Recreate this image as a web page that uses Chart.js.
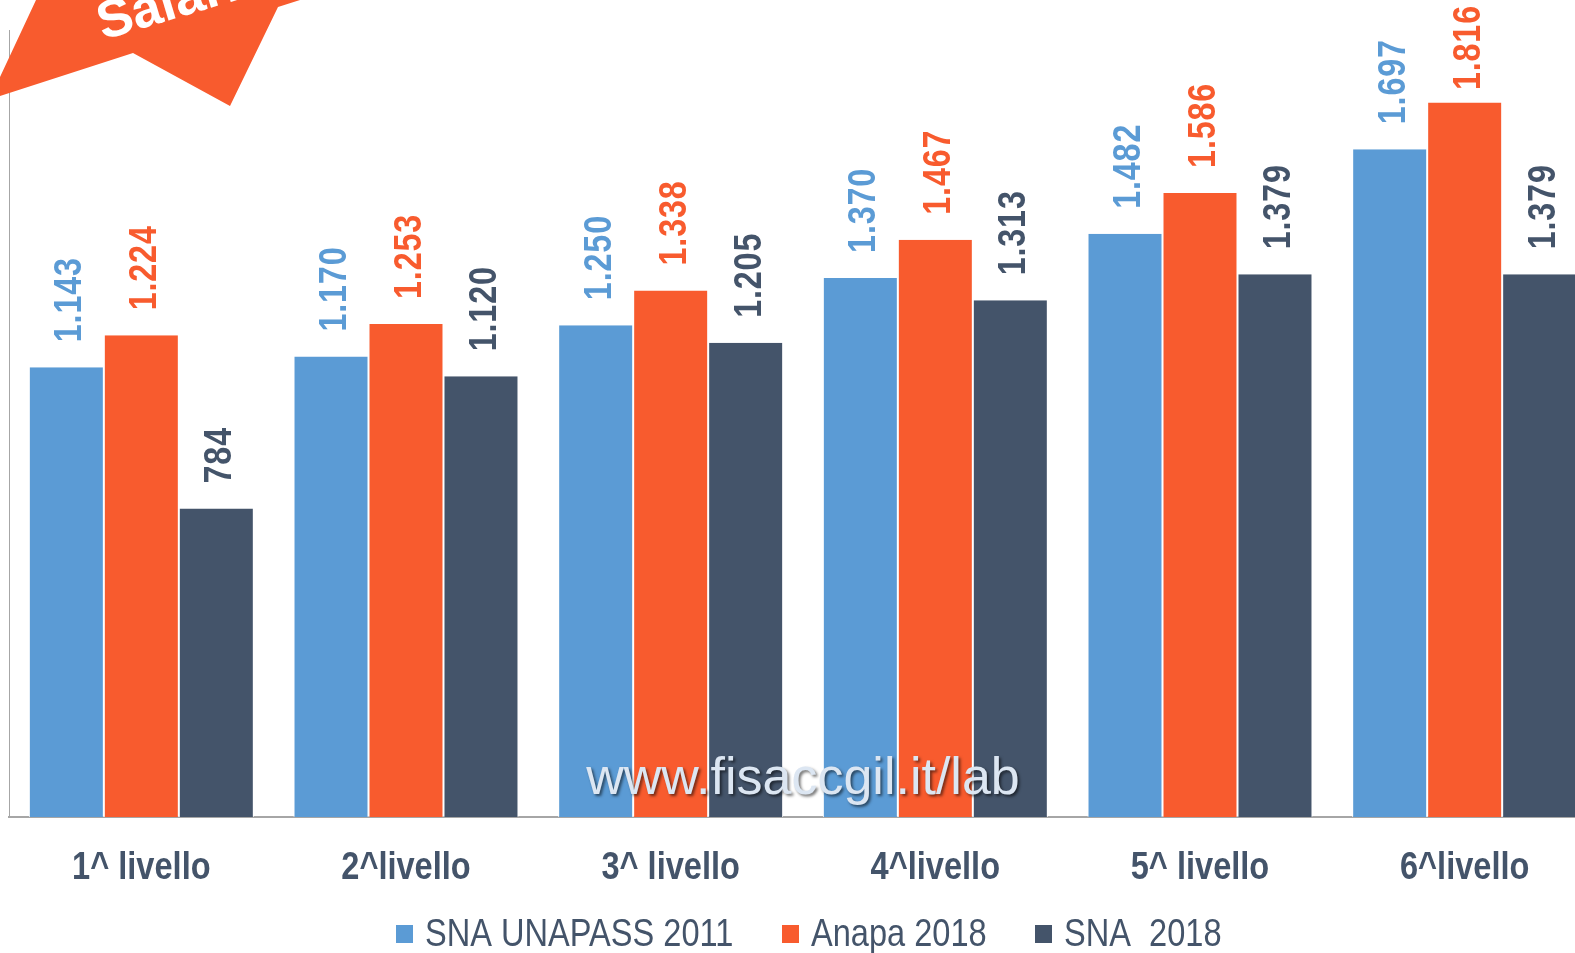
<!DOCTYPE html>
<html>
<head>
<meta charset="utf-8">
<script src="https://cdn.jsdelivr.net/npm/chart.js@4.4.1/dist/chart.umd.min.js"></script>
<style>
  html, body { margin: 0; padding: 0; background: #fff; overflow: hidden; }
  #wrap { width: 1597px; height: 953px; }
</style>
</head>
<body>
<div id="wrap"><canvas id="chart" width="1597" height="953"></canvas></div>
<script>
// livelli e retribuzioni
const categories = ['1^ livello', '2^livello', '3^ livello', '4^livello', '5^ livello', '6^livello'];
const seriesNames = ['SNA UNAPASS 2011', 'Anapa 2018', 'SNA  2018'];
const unapass2011 = [1143, 1170, 1250, 1370, 1482, 1697];
const anapa2018 = [1224, 1253, 1338, 1467, 1586, 1816];
const sna2018 = [784, 1120, 1205, 1313, 1379, 1379];
const seriesColors = ['#5B9BD5', '#F85B2E', '#44546A'];

const FONT = '"Liberation Sans", Arial, sans-serif';
const NARROW = 0.835;   // no Arial Narrow here, so squeeze Arial instead
const textColor = '#44546A';
const axisGray = '#A6A6A6';

// 1143 -> "1.143"
function fmt(v) {
    return String(v).replace(/\B(?=(\d{3})+(?!\d))/g, '.');
}

// narrow text: draw squeezed along the writing direction
function narrowText(ctx, text, x, y, align) {
    const w = ctx.measureText(text).width * NARROW;
    let x0 = x;
    if (align === 'center') x0 = x - w / 2;
    ctx.save();
    ctx.translate(x0, y);
    ctx.scale(NARROW, 1);
    ctx.textAlign = 'left';
    ctx.fillText(text, 0, 0);
    ctx.restore();
    return w;
}

// etichette verticali sopra le barre
const valueLabels = {
    id: 'valueLabels',
    afterDatasetsDraw(chart) {
        const ctx = chart.ctx;
        const sx = 0.85;
        ctx.save();
        ctx.font = 'bold 38px ' + FONT;
        ctx.letterSpacing = '1px';
        ctx.textBaseline = 'alphabetic';
        chart.data.datasets.forEach((ds, i) => {
            const meta = chart.getDatasetMeta(i);
            meta.data.forEach((bar, j) => {
                const txt = fmt(ds.data[j]);
                const len = ctx.measureText(txt).width * sx;
                // keep the label inside the picture, as the original does
                const start = Math.max(bar.y - 25, 5 + len);
                ctx.save();
                ctx.translate(bar.x + 15, start);
                ctx.rotate(-Math.PI / 2);
                ctx.scale(sx, 1);
                ctx.fillStyle = ds.backgroundColor;
                ctx.fillText(txt, 0, 0);
                ctx.restore();
            });
        });
        ctx.restore();
    }
};

// etichette di categoria sotto l'asse x, dalle posizioni della scala
const categoryLabels = {
    id: 'categoryLabels',
    afterDraw(chart) {
        const ctx = chart.ctx;
        const xs = chart.scales.x;
        ctx.save();
        ctx.font = 'bold 39px ' + FONT;
        ctx.fillStyle = textColor;
        ctx.textBaseline = 'alphabetic';
        xs.ticks.forEach((t, i) => {
            narrowText(ctx, xs.getLabelForValue(t.value), xs.getPixelForTick(i), 879, 'center');
        });
        ctx.restore();
    }
};

// legenda in basso
const bottomLegend = {
    id: 'bottomLegend',
    afterDraw(chart) {
        const ctx = chart.ctx;
        const boxX = [396, 782, 1035];
        ctx.save();
        ctx.font = '39px ' + FONT;
        ctx.textBaseline = 'alphabetic';
        chart.data.datasets.forEach((ds, i) => {
            ctx.fillStyle = ds.backgroundColor;
            ctx.fillRect(boxX[i], 925, 17, 18);
            ctx.fillStyle = textColor;
            narrowText(ctx, ds.label, boxX[i] + 29, 946, 'left');
        });
        ctx.restore();
    }
};

// scritta in trasparenza + nastro arancione in alto a sinistra
const decorations = {
    id: 'decorations',
    afterDraw(chart) {
        const ctx = chart.ctx;
        ctx.save();
        ctx.font = '52px ' + FONT;
        ctx.textAlign = 'center';
        ctx.textBaseline = 'alphabetic';
        ctx.shadowColor = 'rgba(0,0,0,0.55)';
        ctx.shadowOffsetX = 2;
        ctx.shadowOffsetY = 2;
        ctx.shadowBlur = 3;
        ctx.fillStyle = '#DCE6F2';
        ctx.fillText('www.fisaccgil.it/lab', 803, 794);
        ctx.restore();

        ctx.save();
        ctx.fillStyle = '#F85B2E';
        ctx.beginPath();
        ctx.moveTo(36, 0);
        ctx.lineTo(0, 77);
        ctx.lineTo(0, 96);
        ctx.lineTo(133, 53);
        ctx.lineTo(230, 106);
        ctx.lineTo(278, 7);
        ctx.lineTo(300, 0);
        ctx.closePath();
        ctx.fill();
        ctx.translate(103, 40);
        ctx.rotate(-0.29);
        ctx.fillStyle = '#fff';
        ctx.font = 'bold 53px ' + FONT;
        ctx.fillText('Salari', 0, 0);
        ctx.restore();
    }
};

const datasets = [unapass2011, anapa2018, sna2018].map((vals, i) => ({
    label: seriesNames[i],
    data: vals,
    backgroundColor: seriesColors[i],
    borderColor: '#FFFFFF',
    borderWidth: { left: 1, right: 1, top: 0, bottom: 0 },
    borderSkipped: 'start',
    categoryPercentage: 0.85,
    barPercentage: 1
}));

new Chart(document.getElementById('chart'), {
    type: 'bar',
    data: { labels: categories, datasets: datasets },
    options: {
        responsive: false,
        animation: false,
        devicePixelRatio: 1,
        layout: { padding: { left: 9, top: 30, right: 0, bottom: 136 } },
        plugins: {
            tooltip: { enabled: false },
            legend: { display: false }
        },
        scales: {
            x: {
                grid: { display: false },
                border: { display: true, color: axisGray, width: 2 },
                ticks: { display: false },
                afterFit(scale) { scale.height = 0; }
            },
            y: {
                min: 0,
                max: 2000,
                grid: { display: false },
                border: { display: true, color: axisGray, width: 1 },
                ticks: { display: false },
                afterFit(scale) { scale.width = 0; }
            }
        }
    },
    plugins: [valueLabels, categoryLabels, bottomLegend, decorations]
});
</script>
</body>
</html>
